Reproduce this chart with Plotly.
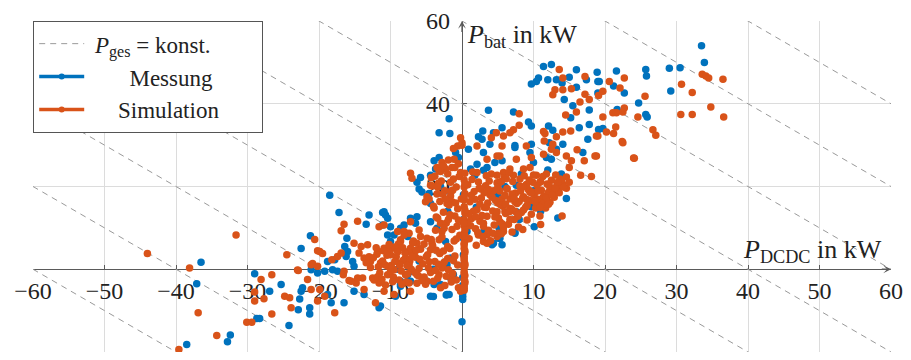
import plotly.graph_objects as go

# ---------------- data ----------------
mess_x = [11.4,12.5,16.0,18.9,9.7,10.4,10.7,12.0,13.2,15.0,16.0,17.4,19.0,14.0,19.0,14.3,15.5,17.8,15.2,3.7,7.2,-1.8,-3.2,-1.7,9.3,9.7,12.1,12.7,16.4,17.8,19.1,17.6,5.6,2.9,2.3,2.8,4.4,9.7,12.2,7.4,
          33.5,33.9,25.7,25.8,29.0,30.5,29.2,21.6,19.2,21.2,22.7,24.7,21.7,25.7,25.9,19.7,
          7.4,11.8,12.5,9.5,14.1,13.2,16.9,13.9,14.6,13.4,10.1,7.4,9.7,13.2,10.0,8.3,7.6,5.3,5.2,7.6,
          0.9,-0.5,-0.9,3.0,3.9,4.6,5.6,2.1,3.5,-3.9,-3.2,-3.7,-4.4,-5.8,-6.3,-6.0,-5.6,-4.6,-4.4,-10.9,-10.4,-11.1,-6.3,-4.4,-3.5,-2.3,-10.0,-9.5,-7.6,1.2,1.8,3.0,5.1,4.2,5.6,0.2,0.7,
          -18.5,-17.2,-21.2,-22.5,-16.1,-13.4,-13.0,-11.1,-10.7,-16.4,-16.0,-18.8,-17.8,-21.1,-20.2,-19.2,-18.1,-17.4,-25.3,-22.3,-16.2,-15.3,-15.1,-10.4,-10.0,-8.6,-8.1,-7.2,-6.5,-8.6,-7.6,-7.0,
          -36.5,-37.1,-38.5,-32.8,-32.4,-28.7,-28.3,-24.2,-29.0,-26.9,-22.9,-21.3,-21.3,-22.5,-22.7,-18.8,-18.3,-16.5,-15.1,-13.7,-11.4,-11.6,-9.3,-8.6,-7.6,-4.4,-2.1,
          0.0,0.1,0.1,0.1,-4.0,-2.2,-4.9,-3.9,-3.0,-8.6,-7.2,-1.6,-1.2,
          4.4,5.3,7.4,-2.1,-1.6,-1.8,
          2.0,5.0,8.0,10.0,-2.0,-6.0,-9.0,-4.0,0.1,0.1,0.1,0.2,0.2,0.2,0.2,6.0,11.0,3.0,-3.0,12.0]
mess_y = [49.0,49.5,48.2,47.6,44.8,45.4,46.2,45.8,45.8,46.4,44.0,45.8,45.4,45.0,42.6,41.0,39.5,38.5,36.6,38.4,38.0,36.4,33.0,32.8,35.6,34.6,34.6,33.6,34.2,35.0,33.8,31.4,34.2,33.4,32.0,31.4,33.0,30.2,30.6,29.9,
          54.0,50.0,48.3,46.7,48.6,48.7,43.1,47.9,45.4,44.3,42.6,40.2,38.6,37.4,36.8,34.0,
          29.4,27.0,26.6,28.2,30.2,29.0,28.2,23.0,17.1,12.4,10.3,8.9,15.1,18.7,25.8,23.0,20.3,7.5,9.9,13.9,
          29.0,27.0,28.2,28.2,30.2,25.8,26.2,25.4,24.6,26.2,27.0,24.2,22.7,22.2,21.0,19.4,18.7,18.3,15.9,13.9,12.3,10.7,12.7,11.5,9.9,6.7,10.3,8.3,7.9,24.2,22.7,23.9,7.5,5.9,5.9,7.5,9.1,
          17.9,13.7,8.1,5.0,7.5,10.9,13.1,13.7,13.1,5.5,4.3,1.9,2.3,-0.1,-0.9,-0.5,-0.1,-0.5,-3.7,-4.5,3.1,1.9,0.7,8.3,6.7,9.9,10.7,12.3,11.1,-2.9,-1.3,-0.5,
          1.7,-3.5,-18.2,-17.5,-15.9,-11.9,-11.9,-13.6,-1.1,-5.3,-9.8,-9.3,-10.8,-5.3,-7.2,-6.1,-8.1,-8.1,-5.3,-6.1,-8.9,-9.3,-6.5,-4.1,-2.9,-6.5,-6.1,
          -12.7,-7.3,-6.5,-5.7,-6.6,-6.2,-2.9,-3.7,-3.7,-3.7,-2.9,-2.1,-1.3,
          6.3,8.3,8.7,1.1,2.7,-6.1,
          15.0,18.0,12.0,19.0,14.0,2.0,0.0,0.0,-4.8,-3.9,-2.0,1.0,3.5,12.0,18.0,20.0,14.0,9.0,20.0,24.0]

sim_x = [13.6,17.2,14.1,13.0,12.7,14.1,15.3,17.2,17.8,16.5,19.1,14.5,16.0,8.0,8.0,7.2,6.7,5.8,4.8,4.1,11.4,11.6,11.5,13.2,14.1,15.2,19.0,-0.2,0.0,-0.6,9.0,12.7,
         33.6,34.1,34.5,36.5,30.7,32.2,34.8,36.6,30.6,32.2,25.6,20.6,22.7,22.1,19.7,21.1,21.6,22.5,22.7,19.7,24.6,21.5,20.2,21.2,18.8,26.7,27.1,22.4,24.1,18.8,
         22.5,24.0,18.6,18.1,16.1,17.1,16.6,14.6,14.0,11.0,8.5,11.7,10.5,14.6,15.3,15.0,13.2,12.5,11.4,9.5,10.4,11.8,10.9,13.7,14.1,13.4,12.8,12.1,11.4,9.7,7.6,6.7,7.2,8.6,8.1,9.0,9.5,8.6,7.6,6.7,5.6,5.3,5.8,5.3,6.3,5.6,6.0,5.3,5.8,
         -1.2,0.0,-1.1,2.1,3.5,4.9,-2.8,-3.5,-1.4,-7.2,-7.0,-0.2,2.1,4.9,-4.4,-4.9,-5.1,-3.0,-2.8,-1.4,3.0,3.5,
         -7.2,-9.0,-8.1,-7.4,-6.0,-5.8,-4.9,-3.2,-8.6,-6.3,-4.2,-9.7,-7.2,-5.8,-4.4,
         -16.5,-16.9,-14.6,-20.6,-24.5,-20.2,-19.5,-18.2,-17.4,-16.9,-20.9,-20.2,-23.0,-21.6,-16.6,-15.8,-14.8,-13.9,-15.1,-14.1,-13.2,-14.4,-13.7,-12.8,-11.6,-10.9,-8.6,-8.1,-11.8,-10.9,-10.0,-9.0,-11.4,-10.4,-9.5,-8.8,-7.9,-7.4,-6.7,-12.5,-11.6,-10.4,
         -44.0,-31.6,-38.1,-36.9,-39.6,-34.3,-30.1,-29.4,-26.6,-28.1,-29.0,-29.0,-27.7,-26.6,-24.8,-24.1,-23.9,-22.9,-17.8,-21.1,-19.9,-20.2,-21.1,-19.9,-19.2,-16.5,-15.5,-14.6,-13.7,-12.1,-10.9,-9.5,-7.2,-4.9,-3.0,
         -1.4,-0.5,-0.2,-7.4,-7.9,-6.3,-4.4,-3.2,-2.8,
         2.3,3.5,4.9,5.1,
         -4.2,-3.8,-3.5,-3.1,-2.9,-2.6,-2.4,-2.2,-2.0,-1.8,-1.6,-1.4,-1.2,-1.0,-0.8,-0.6,-0.4,-0.3,-0.1,0.1,
         0.3,0.3,0.4,0.3,0.4,0.3,0.3,0.4,0.3,0.3,0.4,0.3,0.3,0.4,0.3,0.3,0.4,0.3,0.3,0.4,0.3,0.3,0.4,0.3,0.3,0.4,
         0.8,1.1,1.3,1.5,1.7,1.9,2.1,2.3,2.5,2.7,2.9,3.1,3.3,3.5,3.7,3.9,4.1,4.3,4.5,4.7,4.9,5.1,5.3,5.5,5.7,5.9,6.1,6.3,6.5,6.7,6.9,7.1,7.3,7.5,7.7,7.9,8.1,8.3,8.5,8.7,8.9,9.1,9.3,9.5,9.7,9.9,10.1,10.3,10.5,10.7,10.9,11.1,11.3,11.5,11.7,11.9,12.1,12.3,12.5,12.7,12.9,13.1,13.3,13.6,13.9,14.2,14.6,15.0,
         1.0,2.0,3.0,4.0,1.6,2.4,3.4,5.0,6.0,7.0,8.0,6.6,4.4,5.6,2.8,1.2,3.6,7.4,9.0,10.0,
         -3.4,-2.8,-2.0,-1.5,-3.9,-4.6,-1.1,-0.7,-2.3,-0.5,-3.2,-1.9,
         -12.8,-12.3,-11.9,-11.5,-11.1,-10.7,-10.3,-9.9,-9.6,-9.2,-8.9,-8.5,-8.2,-7.8,-7.5,-7.1,-6.8,-6.5,-6.1,-5.8,-5.5,-5.1,-4.8,-4.4,-4.1,-3.8,-3.4,-3.1,-2.7,-2.4,-2.0,-1.7,-1.3,-1.0,-0.6,
         -9.4,-10.8,-6.3,-7.3,-5.3,-4.6,-3.6,-2.2,-8.0,-11.8,-12.0,-13.4,-13.0,-6.0,-8.7,
         -4.0,-3.6,-3.3,-2.7,-2.5,-2.1,-1.7,-1.3,-0.9,-0.5,-3.7,-3.0,-2.3,-1.6,-0.8,-4.3,-3.4,-2.6,-1.9,-1.0,
         0.9,1.4,1.8,2.2,2.6,3.0,3.4,3.8,4.2,4.6,5.0,5.4,5.8,6.2,6.6,7.0,7.4,7.8,8.2,8.6,9.0,9.4,9.8,10.2,10.6,11.0,11.4,11.8,12.2,12.6,13.0,13.4,1.3,2.5,3.7,4.9,6.1,7.3,8.5,9.7,10.9,12.1,0.7,1.9,3.1,4.3,5.5,6.7,7.9,9.1,
         -12.4,-11.7,-11.2,-10.5,-10.0,-9.4,-8.8,-8.3,-7.7,-7.0,-6.6,-5.9,-5.3,-4.7,-4.0,-3.3,-2.6,-1.9,-1.2,-0.8,-10.2,-9.0,-7.6,-6.4,-5.0,-3.7,-2.5,-1.5,-8.4,-6.9,-5.6,-4.3,-11.0,-9.7,
         0.3,0.4,0.3,0.4,0.3,0.4,0.3,0.4,0.3,0.4,0.3,0.4]
sim_y = [48.3,46.6,46.2,43.4,42.2,43.4,43.6,42.3,41.0,40.4,42.0,37.3,38.0,37.6,34.8,33.7,33.0,32.2,33.0,31.8,33.3,32.8,31.0,32.0,33.2,33.4,32.2,31.8,30.6,29.8,29.8,30.2,
         47.1,46.7,46.2,45.9,44.7,42.7,39.2,36.8,37.4,37.4,41.8,45.4,46.2,43.8,43.0,37.8,37.8,38.0,39.0,36.8,36.8,34.4,33.2,32.8,32.2,33.7,32.4,30.9,26.8,27.4,
         30.6,26.9,27.4,22.4,28.9,26.2,22.7,19.6,12.9,10.8,9.6,14.8,15.9,27.4,26.2,24.6,28.2,29.0,27.8,24.6,22.7,23.0,21.0,21.8,20.6,19.4,18.7,17.9,17.5,27.0,26.6,24.2,22.7,24.2,21.8,20.3,18.7,17.5,16.3,14.7,29.8,27.4,23.4,21.0,19.4,17.0,13.9,11.5,9.1,
         29.2,30.0,26.6,29.8,26.6,27.4,25.8,24.6,24.6,23.2,22.0,23.4,23.4,22.7,20.3,17.5,16.3,11.1,9.1,16.3,6.7,8.3,
         11.5,9.1,9.1,8.7,9.5,7.9,7.5,7.1,6.7,6.3,6.3,5.1,5.1,4.9,4.7,
         10.9,9.3,11.6,7.2,3.5,4.5,3.8,2.3,3.1,3.9,1.4,0.7,-0.2,-2.5,-1.3,-2.7,-3.3,-2.1,6.3,5.5,5.9,3.9,2.7,1.9,10.3,10.7,7.1,8.3,4.3,5.1,3.5,4.7,1.5,0.7,-0.1,1.5,2.7,1.1,3.9,-2.1,-3.3,-1.3,
         3.8,8.3,0.3,-10.5,-19.4,-16.0,-12.8,-12.8,-10.8,-2.5,-5.5,-7.7,-7.1,-1.3,-6.5,-6.9,-9.3,-0.3,-10.5,1.1,4.3,-7.7,-4.9,-4.9,-6.5,-0.5,-2.9,-2.1,-4.9,-8.1,-5.3,-6.1,-5.3,-2.9,-4.5,
         -2.5,-4.5,-5.3,-3.3,-1.3,-1.3,-0.5,-1.3,0.3,
         8.3,6.3,7.9,8.7,
         20.1,22.5,18.2,16.4,21.3,13.8,19.0,11.2,23.1,15.5,17.7,9.6,21.8,12.9,19.9,14.6,22.4,8.2,17.0,11.5,
         -5.1,-4.2,-3.3,-2.4,-1.5,-0.6,0.4,1.3,2.2,3.1,4.0,5.0,5.9,6.8,7.7,8.6,9.5,10.5,12.0,13.6,15.1,16.8,18.3,19.9,21.6,23.2,
         20.4,16.3,12.2,23.5,18.8,9.8,14.4,21.1,11.6,17.2,7.9,15.0,20.2,12.8,9.4,18.0,23.0,14.1,10.7,16.6,20.9,12.4,18.9,8.6,15.3,22.1,13.5,19.5,10.9,17.0,14.6,21.2,12.0,18.4,15.9,10.2,20.1,13.7,17.3,22.6,15.0,11.9,19.2,16.6,13.3,21.0,18.0,14.8,20.3,16.9,12.9,19.1,22.4,17.7,15.2,20.6,18.6,16.2,21.5,19.6,17.4,22.8,20.4,18.5,21.6,19.9,22.3,21.0,
         7.4,5.8,10.4,6.9,14.0,19.6,22.6,16.0,17.8,9.0,16.4,23.4,19.0,11.0,13.0,10.5,16.0,14.0,20.5,22.8,
         12.3,7.8,5.5,18.9,14.8,17.0,6.8,10.4,24.3,25.5,23.8,26.4,
         0.4,-2.6,3.6,-0.9,2.0,-3.8,4.8,0.9,-1.9,3.0,6.1,-0.4,2.2,-3.1,4.3,0.0,6.8,2.9,-1.6,4.9,1.3,-3.6,3.5,-0.8,5.7,1.9,-2.2,3.8,0.6,-3.9,2.6,5.0,-1.0,3.2,1.0,
         5.4,1.1,-3.4,2.0,-1.9,1.8,4.6,-1.7,4.0,-1.8,5.2,1.6,3.0,0.2,1.0,
         15.2,12.6,20.8,18.1,9.9,15.9,13.2,19.1,16.0,11.9,9.4,23.6,17.0,21.0,7.3,22.2,19.8,25.0,12.0,24.6,
         13.5,21.7,16.9,8.9,19.4,11.1,14.9,21.3,17.4,12.6,19.8,15.6,10.1,21.9,13.9,18.2,16.3,12.8,18.9,14.3,16.9,21.6,18.7,16.4,18.9,21.2,15.9,17.3,20.1,17.9,19.6,21.0,17.9,15.8,19.3,13.9,15.7,17.1,19.9,18.4,14.9,15.7,11.3,12.7,18.5,8.7,21.2,12.0,13.2,15.4,
         2.8,0.6,-2.4,3.4,-0.5,1.9,-2.6,5.2,0.9,3.1,-0.8,2.4,6.1,0.3,-2.9,1.2,4.4,-0.1,2.1,-2.6,6.0,4.2,-1.1,4.6,3.0,-0.3,1.7,-3.1,-3.6,6.4,-2.7,7.2,4.5,-3.0,
         -4.6,-2.9,-1.1,0.9,2.7,4.5,6.3,8.1,11.2,14.3,17.5,20.7]

# P_ges = konst. lines (P_DCDC + P_bat = c)
pges_levels = [-60, -40, -20, 0, 20, 40, 60, 80, 100]

x_ticks = [-60, -50, -40, -30, -20, -10, 10, 20, 30, 40, 50, 60]
y_ticks = [-20, 20, 40, 60]

NB = "\u00a0"
legend_names = [NB + "<i>P</i><sub>ges</sub> = konst." + NB * 8,
                NB * 7 + "Messung",
                NB * 5 + "Simulation"]

BLUE = "#0072BD"
ORANGE = "#D95319"
FONT = "Liberation Serif, Times New Roman, serif"
TXT = "#222222"

lx, ly = [], []
for c in pges_levels:
    lx += [-80, 120, None]
    ly += [c + 80, c - 120, None]

fig = go.Figure()
fig.add_trace(go.Scatter(x=lx, y=ly, mode="lines",
                         line=dict(color="#9a9a9a", width=1, dash="6px,5px"),
                         name=legend_names[0], hoverinfo="skip"))
fig.add_trace(go.Scatter(x=mess_x, y=mess_y, mode="markers", showlegend=False,
                         marker=dict(color=BLUE, size=7.5, line=dict(width=0))))
fig.add_trace(go.Scatter(x=sim_x, y=sim_y, mode="markers", showlegend=False,
                         marker=dict(color=ORANGE, size=7.5, line=dict(width=0))))
fig.add_trace(go.Scatter(x=[None], y=[None], mode="lines+markers", name=legend_names[1],
                         line=dict(color=BLUE, width=3.5), marker=dict(color=BLUE, size=6)))
fig.add_trace(go.Scatter(x=[None], y=[None], mode="lines+markers", name=legend_names[2],
                         line=dict(color=ORANGE, width=3.5), marker=dict(color=ORANGE, size=6)))

axis_common = dict(showgrid=True, gridcolor="#dcdcdc", gridwidth=1, zeroline=False,
                   showline=True, linecolor="#5a5a5a", linewidth=1.3,
                   ticks="inside", ticklen=4, tickcolor="#5a5a5a", tickwidth=1,
                   tickfont=dict(family=FONT, size=24, color=TXT),
                   layer="below traces", fixedrange=True)

fig.update_layout(
    width=911, height=360,
    margin=dict(l=33, r=14, t=18, b=8),
    font=dict(family=FONT, size=24, color=TXT),
    paper_bgcolor="white", plot_bgcolor="white",
    xaxis=dict(range=[-60, 60], tickvals=x_ticks, anchor="free", position=0.25,
               ticklabelstandoff=0, **axis_common),
    yaxis=dict(range=[-20, 60], tickvals=y_ticks, anchor="free", position=0.5,
               ticklabelstandoff=7, **axis_common),
    legend=dict(x=0, y=1, xanchor="left", yanchor="top", bgcolor="white",
                bordercolor="#555", borderwidth=1.2, itemwidth=45,
                font=dict(family=FONT, size=23, color=TXT), tracegroupgap=0),
    showlegend=True,
)

fig.add_annotation(x=0, y=60, xref="x", yref="y", text="<i>P</i><sub>bat</sub> in kW",
                   showarrow=False, xanchor="left", yanchor="top", xshift=3, yshift=3,
                   font=dict(family=FONT, size=26, color=TXT))
fig.add_annotation(x=59, y=0, xref="x", yref="y", text="<i>P</i><sub>DCDC</sub> in kW",
                   showarrow=False, xanchor="right", yanchor="bottom", yshift=0,
                   font=dict(family=FONT, size=26, color=TXT))
# axis arrow heads
fig.add_annotation(x=60, y=0, ax=58.5, ay=0, xref="x", yref="y", axref="x", ayref="y",
                   text="", showarrow=True, arrowhead=3, arrowsize=1, arrowwidth=1.3,
                   arrowcolor="#5a5a5a")
fig.add_annotation(x=0, y=60, ax=0, ay=57, xref="x", yref="y", axref="x", ayref="y",
                   text="", showarrow=True, arrowhead=3, arrowsize=1, arrowwidth=1.3,
                   arrowcolor="#5a5a5a")

fig.write_html("out.html")
